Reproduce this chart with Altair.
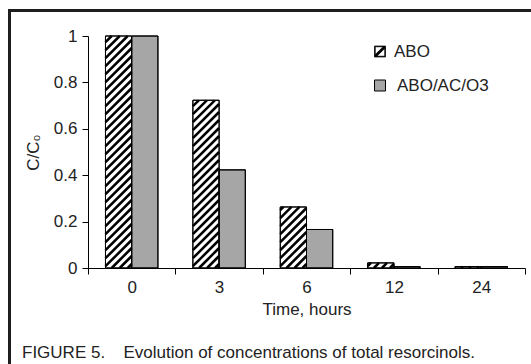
import altair as alt
import pandas as pd

# ---- data ----
times = ["0", "3", "6", "12", "24"]
series_names = ["ABO", "ABO/AC/O3"]
abo = [1.0, 0.723, 0.263, 0.022, 0.006]
abo_ac_o3 = [1.0, 0.423, 0.166, 0.006, 0.006]
y_ticks = [0, 0.2, 0.4, 0.6, 0.8, 1]

rows = []
for i, t in enumerate(times):
    rows.append({"time": t, "idx": i, "series": series_names[0], "value": abo[i]})
    rows.append({"time": t, "idx": i, "series": series_names[1], "value": abo_ac_o3[i]})
df = pd.DataFrame(rows)

W, H = 437, 232
FONT = "Liberation Sans"
TXT = "#222222"
GRAY = "#a6a6a6"
SX = W / len(times)        # px per band
SY = H                     # px per unit of C/C0
BAR_FRAC = 0.3             # bar width as a fraction of the band
WB = BAR_FRAC * SX
P = 8.0                    # hatch period (px)

ABO_ICON = ("M-1,-1H1V1H-1Z M-0.86,-0.86V0.86H0.86V-0.86Z "
            "M-0.86,0.86L-0.86,0.56L0.56,-0.86L0.86,-0.86L0.86,-0.56L-0.56,0.86Z")

band_scale = alt.Scale(paddingInner=0, paddingOuter=0)
off_scale = alt.Scale(paddingInner=0, paddingOuter=2 / 3)
y_enc = alt.Y("value:Q", scale=alt.Scale(domain=[0, 1], nice=False),
              axis=alt.Axis(values=y_ticks, format="~g", title="C/C₀", grid=False,
                            tickSize=6, labelPadding=5, titlePadding=11))

bars = alt.Chart(df).mark_bar(stroke="black", strokeWidth=1).encode(
    x=alt.X("time:N", sort=times, scale=band_scale,
            axis=alt.Axis(title="Time, hours", labelAngle=0, tickBand="extent",
                          tickSize=6, labelPadding=5, titlePadding=6)),
    xOffset=alt.XOffset("series:N", sort=series_names, scale=off_scale),
    y=y_enc,
    fill=alt.Fill("series:N", scale=alt.Scale(domain=series_names, range=["white", GRAY]),
                  legend=None),
)

hatch = alt.Chart(df).transform_filter(
    "datum.series == 'ABO'"
).transform_calculate(
    hb=f"datum.value * {SY}"
).transform_calculate(
    ks=f"sequence(0, ceil(({WB} + datum.hb) / {P}) + 1)"
).transform_flatten(["ks"]).transform_calculate(
    c=f"{WB} - datum.ks * {P} + {P / 2}"
).transform_calculate(
    ylo="max(0, -datum.c)", yhi=f"min(datum.hb, {WB} - datum.c)"
).transform_filter("datum.yhi > datum.ylo + 0.3").transform_calculate(
    xa=f"datum.idx + {0.5 - BAR_FRAC} + (datum.ylo + datum.c) / {SX}",
    xb=f"datum.idx + {0.5 - BAR_FRAC} + (datum.yhi + datum.c) / {SX}",
    ya=f"datum.ylo / {SY}",
    yb=f"datum.yhi / {SY}",
).mark_rule(color="black", strokeWidth=2.5).encode(
    x=alt.X("xa:Q", scale=alt.Scale(domain=[0, len(times)], nice=False, zero=False), axis=None),
    x2="xb:Q",
    y=alt.Y("ya:Q", title="C/C₀"),
    y2="yb:Q",
)

outline = alt.Chart(df).mark_bar(stroke="black", strokeWidth=1, fillOpacity=0).encode(
    x=alt.X("time:N", sort=times, scale=band_scale, axis=None),
    xOffset=alt.XOffset("series:N", sort=series_names, scale=off_scale),
    y=alt.Y("value:Q", title="C/C₀"),
)

one = pd.DataFrame({"k": [0]})

# legend (drawn by hand so the ABO entry can carry its hatch icon)
leg_sym1 = alt.Chart(one).mark_point(shape=ABO_ICON, size=121, filled=True, fill="black",
                                     stroke="black", strokeWidth=0.7, opacity=1).encode(
    x=alt.value(292), y=alt.value(15.5))
leg_sym2 = alt.Chart(one).mark_point(shape="square", size=121, filled=True, fill=GRAY,
                                     stroke="black", strokeWidth=1, opacity=1).encode(
    x=alt.value(292), y=alt.value(49.5))
leg_txt1 = alt.Chart(one).mark_text(align="left", baseline="middle", fontSize=17,
                                    font=FONT, color=TXT).encode(
    x=alt.value(306), y=alt.value(16), text=alt.value(series_names[0]))
leg_txt2 = alt.Chart(one).mark_text(align="left", baseline="middle", fontSize=17,
                                    font=FONT, color=TXT).encode(
    x=alt.value(309), y=alt.value(50), text=alt.value(series_names[1]))

frame_left = alt.Chart(one).mark_rule(color="#1e1e1e", strokeWidth=3).encode(
    x=alt.value(-78.5), y=alt.value(-27), y2=alt.value(340))
frame_top = alt.Chart(one).mark_rule(color="#1e1e1e", strokeWidth=3).encode(
    y=alt.value(-25.5), x=alt.value(-80), x2=alt.value(450))

cap1 = alt.Chart(one).mark_text(align="left", baseline="alphabetic", fontSize=17,
                                font=FONT, color=TXT).encode(
    x=alt.value(-66), y=alt.value(322), text=alt.value("FIGURE 5."))
cap2 = alt.Chart(one).mark_text(align="left", baseline="alphabetic", fontSize=17,
                                font=FONT, color=TXT).encode(
    x=alt.value(35.5), y=alt.value(322),
    text=alt.value("Evolution of concentrations of total resorcinols."))

chart = alt.layer(
    bars, hatch, outline, leg_sym1, leg_sym2, leg_txt1, leg_txt2,
    frame_left, frame_top, cap1, cap2
).resolve_scale(x="independent").properties(
    width=W, height=H,
    autosize=alt.AutoSizeParams(type="none"),
    padding={"left": 88, "top": 36, "right": 6, "bottom": 96},
    background="white",
).configure_view(strokeWidth=0).configure_axis(
    labelFont=FONT, titleFont=FONT, labelFontSize=17, titleFontSize=17,
    labelColor=TXT, titleColor=TXT, titleFontWeight="normal",
    domainColor="black", tickColor="black", domainWidth=1, tickWidth=1,
)

chart.save("out.html", embed_options={"renderer": "svg", "actions": False})
